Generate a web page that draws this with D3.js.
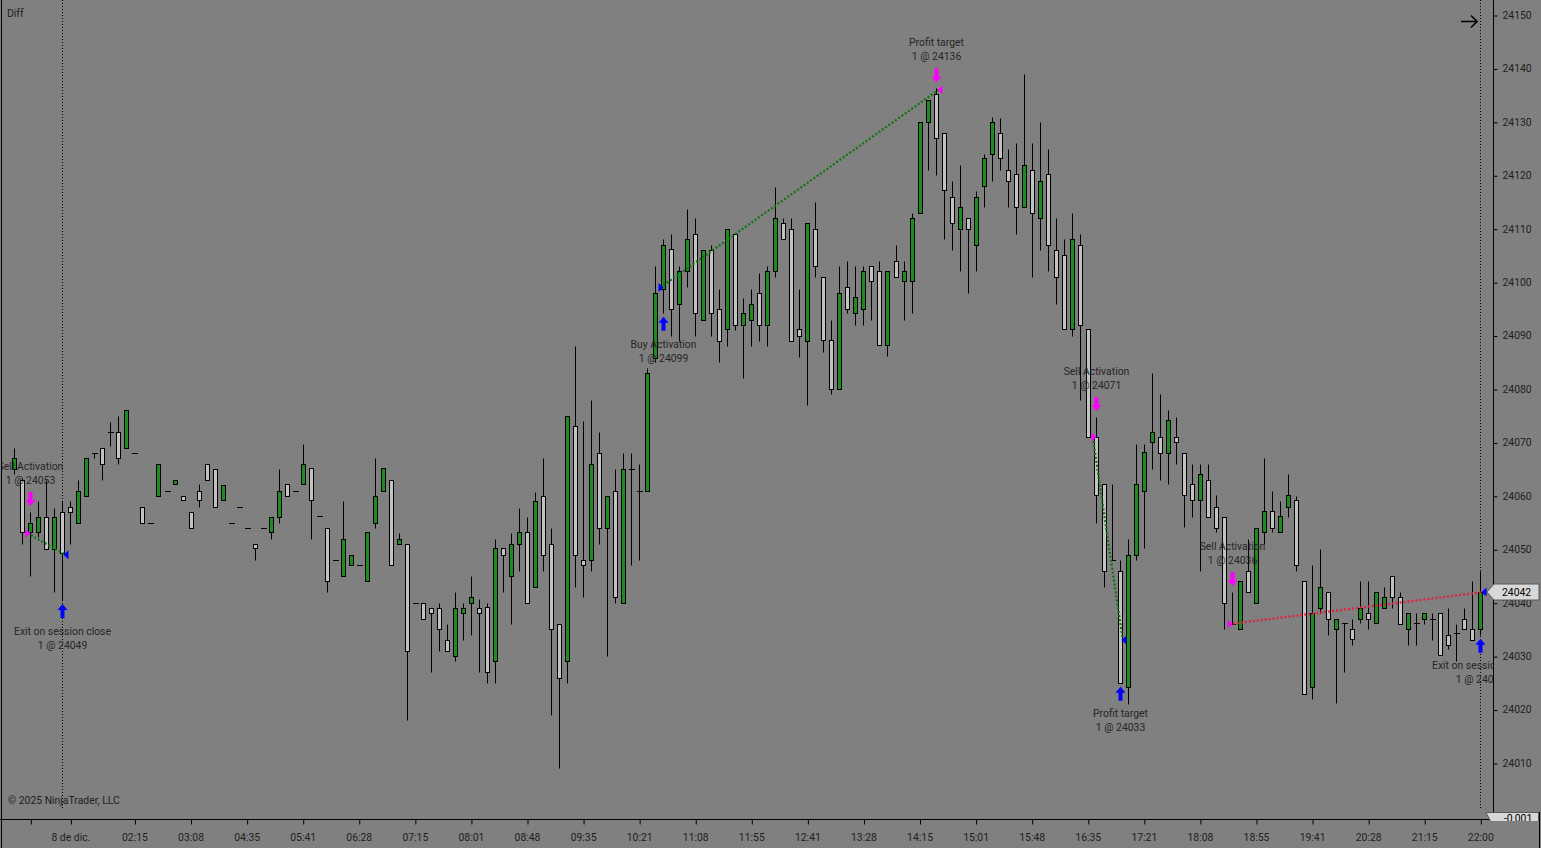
<!DOCTYPE html>
<meta charset="utf-8">
<style>

body {
  margin: 0;
  background: #808080;
}

svg {
  display: block;
  font-family: Roboto, "Noto Sans", sans-serif;
  font-size: 10.4px;
}

.wick { stroke: #000; stroke-width: 1px; }
.body { stroke: #000; stroke-width: 1px; }
.axis text { fill: #1e1e1e; font-size: 10.4px; font-family: Roboto, "Noto Sans", sans-serif; }
.axis line { stroke: #000; }
.note { fill: #262626; text-anchor: middle; }

</style>
<body>
<div class="canvas"></div>
</body>
<script src="https://d3js.org/d3.v7.min.js"></script>
<script>

// bar data (one entry per bar)
var opens = [
  24065, 24063, 24053.25, 24053.25, 24056, 24050, 24057, 24058, 24055, 24060,
  24068, 24069, 24072, 24072, 24069, 24068, 24058, 24055, 24060, 24061,
  24062.25, 24060, 24057, 24061, 24066, 24065, 24059.25, 24055, 24058, 24054,
  24051, 24054, 24053.25, 24056, 24062.25, 24061, 24062.25, 24065.25, 24056.25, 24054,
  24048, 24045, 24047, 24047, 24044, 24055, 24061, 24063, 24051, 24051,
  24040, 24040, 24039, 24039, 24033, 24030, 24038, 24040, 24039, 24039.25,
  24029, 24050.25, 24045, 24051, 24053.25, 24043, 24060, 24051, 24036, 24029,
  24073, 24048, 24048, 24068, 24054, 24061, 24040, 24065, 24061, 24061,
  24085.75, 24098.75, 24106.25, 24096, 24102, 24109, 24093, 24106, 24095, 24091.25,
  24109, 24092, 24093, 24098, 24092, 24102, 24111, 24110, 24091.25, 24089,
  24110, 24101, 24089.25, 24080, 24099, 24094.25, 24095, 24103, 24102, 24088.25,
  24104, 24100.25, 24100.25, 24113, 24130, 24135.25, 24128, 24116, 24110, 24112,
  24107, 24118, 24124, 24128, 24121, 24120.25, 24114, 24121, 24112, 24120.25,
  24106, 24105, 24091.25, 24107, 24091.25, 24071, 24062.25, 24048, 24046, 24024.25,
  24049, 24061, 24070, 24071, 24068, 24071, 24068, 24062.25, 24059.25, 24063,
  24058, 24056, 24036, 24035, 24046, 24040, 24053.25, 24057.25, 24053.25, 24058,
  24059.25, 24044, 24024.25, 24039, 24042, 24035, 24036.25, 24035, 24037, 24038,
  24036.25, 24039, 24045, 24041, 24035, 24036.25, 24037, 24037, 24038, 24034,
  24034.25, 24037, 24035, 24035
];
var highs = [
  24069, 24063.25, 24057, 24059, 24063, 24057.75, 24059, 24059, 24063, 24067,
  24068, 24069, 24073.75, 24075, 24076, 24068, 24058, 24055, 24066, 24061,
  24063, 24060, 24057, 24062.25, 24066, 24065, 24062, 24055, 24058, 24054,
  24051, 24054, 24056, 24065, 24062.25, 24061, 24069.75, 24065.25, 24056.25, 24054,
  24048, 24059, 24049, 24047, 24053.25, 24067, 24065.25, 24063, 24053, 24051,
  24040, 24040, 24039, 24040, 24036, 24042, 24040, 24045, 24040.75, 24040,
  24052, 24050.25, 24053, 24057.75, 24056, 24060.75, 24067, 24054, 24036, 24075,
  24088, 24074, 24078, 24072, 24060, 24065, 24068, 24068, 24066, 24084,
  24103, 24108, 24109, 24103, 24113.75, 24112, 24106, 24107, 24098.75, 24110,
  24109, 24097, 24098.75, 24101.75, 24103, 24117.75, 24112, 24112, 24098.75, 24111,
  24115, 24101, 24093, 24103, 24104, 24103, 24103, 24103, 24104, 24102,
  24107, 24104, 24113, 24130, 24134, 24136.25, 24128, 24119, 24122, 24112,
  24117, 24124, 24131, 24130.75, 24125, 24126, 24139, 24126, 24130, 24125,
  24112, 24108, 24113, 24109, 24091.25, 24074.75, 24062.25, 24062.25, 24048, 24052,
  24069.75, 24069.75, 24083, 24079, 24076, 24074.75, 24068, 24066, 24066, 24066,
  24060.25, 24056, 24042, 24044, 24052, 24054, 24067, 24061, 24059, 24064,
  24060, 24044, 24047, 24050, 24042, 24037, 24036.25, 24037, 24044, 24044,
  24042, 24043, 24045, 24042, 24038, 24038, 24038, 24038, 24038, 24039,
  24036, 24039, 24044, 24046
];
var lows = [
  24064, 24051, 24045, 24052.25, 24050, 24042, 24040.5, 24051, 24055, 24060,
  24067, 24063, 24069.25, 24066, 24069, 24068, 24055, 24055, 24060, 24061,
  24062.25, 24059.25, 24054, 24058, 24063, 24058, 24059.25, 24055, 24058, 24054,
  24048, 24054, 24052, 24055, 24060, 24061, 24062.25, 24052, 24056.25, 24042,
  24048, 24045, 24047, 24047, 24044, 24054, 24061, 24047, 24051, 24018,
  24040, 24037, 24027, 24031, 24031, 24029, 24033, 24034, 24027, 24025,
  24025, 24042, 24036, 24046, 24040, 24043, 24046, 24019, 24009, 24025,
  24043, 24041, 24046, 24051, 24030, 24040, 24040, 24047, 24048, 24061,
  24085, 24094.25, 24090, 24089, 24099, 24090, 24093, 24090, 24085, 24088,
  24091, 24082, 24088, 24089, 24088, 24101, 24108, 24089, 24086, 24077,
  24101, 24087, 24079, 24080, 24094.25, 24092, 24092, 24093, 24088.25, 24086.25,
  24101, 24093, 24094.25, 24113, 24121, 24120, 24108, 24106, 24102, 24098,
  24102, 24114, 24119, 24121, 24114, 24109, 24114, 24101, 24106, 24102,
  24096, 24091.25, 24090, 24078, 24071, 24055, 24043, 24048, 24025, 24021,
  24048, 24050.25, 24065, 24063, 24062.25, 24066, 24054.25, 24056, 24046, 24056,
  24053.25, 24035, 24036, 24035, 24042, 24040, 24051, 24053.25, 24053.25, 24056,
  24046, 24023, 24022, 24038, 24034, 24021.25, 24027, 24032, 24036.25, 24035,
  24036.25, 24039, 24039, 24036, 24032, 24032, 24036, 24033, 24030.25, 24031.25,
  24029, 24035, 24033, 24034
];
var closes = [
  24067, 24053.25, 24055, 24056, 24050, 24056, 24049.25, 24057, 24061, 24067,
  24068, 24066, 24072, 24067, 24076, 24068, 24055, 24055, 24066, 24061,
  24063, 24059.25, 24054, 24059.25, 24063, 24058, 24062, 24055, 24058, 24054,
  24050.25, 24054, 24056, 24061, 24060, 24061, 24066, 24059.25, 24056.25, 24044,
  24048, 24052, 24049, 24047, 24053.25, 24060, 24065.25, 24047, 24052, 24031,
  24040, 24037, 24038, 24035, 24031, 24039, 24039, 24041, 24038, 24027,
  24050.25, 24049, 24051, 24053.25, 24040, 24059, 24049, 24035, 24026, 24075,
  24049, 24047, 24066, 24054, 24060, 24041, 24065, 24065, 24061, 24083,
  24098, 24107, 24095, 24102, 24108, 24094.25, 24106, 24094.25, 24089, 24110,
  24092, 24094.25, 24096, 24092, 24102, 24112, 24108, 24089, 24090, 24111,
  24103, 24089.25, 24080, 24098, 24095, 24097.25, 24102, 24100.25, 24088.25, 24102,
  24101, 24102, 24112, 24130, 24134, 24127, 24117.25, 24111, 24114, 24110,
  24116, 24123.25, 24130, 24123.25, 24119, 24114, 24122, 24113, 24119, 24107,
  24101, 24091.25, 24108, 24092, 24071, 24060.25, 24046, 24048, 24025, 24049,
  24062.25, 24068.25, 24072, 24068, 24074.25, 24070, 24060.25, 24059.25, 24064, 24056,
  24054, 24040, 24036, 24044, 24042, 24054, 24057.25, 24054, 24056.25, 24060.25,
  24047, 24023, 24038, 24043, 24037, 24037, 24036.25, 24033.25, 24039, 24037,
  24042, 24041, 24041, 24036, 24038, 24036.25, 24038, 24037, 24030.25, 24032,
  24034.25, 24035, 24033, 24042
];

// time axis
var tickIdx = [2, 7, 15, 22, 29, 36, 43, 50, 57, 64, 71, 78, 85, 92, 99, 106, 113, 120, 127, 134, 141, 148, 155, 162, 169, 176, 183];
var tickLabels = ["", "8 de dic.", "02:15", "03:08", "04:35", "05:41", "06:28", "07:15", "08:01", "08:48", "09:35", "10:21", "11:08",
  "11:55", "12:41", "13:28", "14:15", "15:01", "15:48", "16:35", "17:21", "18:08", "18:55", "19:41", "20:28", "21:15", "22:00"];

// price axis
var priceTicks = [24010, 24020, 24030, 24040, 24050, 24060, 24070, 24080, 24090, 24100, 24110, 24120, 24130, 24140, 24150];
var lastPrice = 24042;

// executions
var execIdx = [2, 6, 81, 115, 135, 138, 152, 183];
var execPrice = [24053, 24049, 24099, 24136, 24071, 24033, 24036, 24042];
var execName = ["Sell Activation", "Exit on session close", "Buy Activation", "Profit target",
  "Sell Activation", "Profit target", "Sell Activation", "Exit on session close"];
var execSide = ["sell", "buy", "buy", "sell", "sell", "buy", "sell", "buy"];
var execKind = ["entry", "exit", "entry", "exit", "entry", "exit", "entry", "exit"];

// trades: entry exec -> exit exec
var tradeFrom = [0, 2, 4, 6];
var tradeTo = [1, 3, 5, 7];
var tradeWin = [true, true, true, false];

var W = 1541, H = 848,
    plotR = 1493, plotB = 819;

var svg = d3.select(".canvas").append("svg")
    .attr("width", W)
    .attr("height", H);

svg.append("rect").attr("width", W).attr("height", H).attr("fill", "#808080");

var x = d3.scaleLinear().domain([0, 183]).range([14.3, 1480.3]);
var y = d3.scaleLinear().domain([24010, 24150]).range([763, 15]);

svg.append("clipPath").attr("id", "plot")
  .append("rect").attr("x", 1).attr("y", 0).attr("width", plotR - 1).attr("height", plotB);

var plot = svg.append("g").attr("clip-path", "url(#plot)");

// session lines
[6, 183].forEach(function(i) {
  var cx = Math.round(x(i)) + 0.5;
  plot.append("line")
      .attr("x1", cx).attr("x2", cx).attr("y1", 0).attr("y2", 810)
      .attr("stroke", "#000").attr("stroke-width", 1)
      .attr("stroke-dasharray", "1,2");
});

function px(i) { return Math.round(x(i)) + 0.5; }
function py(p) { return Math.round(y(p)) + 0.5; }

var bars = plot.append("g").selectAll("g")
    .data(d3.range(opens.length))
  .enter().append("g");

bars.append("line")
    .attr("class", "wick")
    .attr("x1", px).attr("x2", px)
    .attr("y1", function(i) { return py(highs[i]); })
    .attr("y2", function(i) { return py(lows[i]); });

bars.filter(function(i) { return opens[i] !== closes[i]; })
  .append("rect")
    .attr("class", "body")
    .attr("x", function(i) { return px(i) - 2; })
    .attr("width", 4)
    .attr("y", function(i) { return py(Math.max(opens[i], closes[i])); })
    .attr("height", function(i) { return py(Math.min(opens[i], closes[i])) - py(Math.max(opens[i], closes[i])); })
    .attr("fill", function(i) { return closes[i] > opens[i] ? "#1e8c1e" : "#c3c3c3"; });

bars.filter(function(i) { return opens[i] === closes[i]; })
  .append("line")
    .attr("class", "wick")
    .attr("x1", function(i) { return px(i) - 2.5; })
    .attr("x2", function(i) { return px(i) + 3.5; })
    .attr("y1", function(i) { return py(opens[i]); })
    .attr("y2", function(i) { return py(opens[i]); });

// trade lines
tradeFrom.forEach(function(a, k) {
  var b = tradeTo[k];
  plot.append("line")
      .attr("x1", x(execIdx[a]) - 3).attr("y1", y(execPrice[a]))
      .attr("x2", x(execIdx[b]) + 3).attr("y2", y(execPrice[b]))
      .attr("stroke", tradeWin[k] ? "#0b750b" : "#e0203c")
      .attr("stroke-width", 2.2)
      .attr("stroke-dasharray", "2,2");
});

// execution markers
execIdx.forEach(function(i, k) {
  var cx = px(i), ey = y(execPrice[k]);
  var col = execSide[k] === "sell" ? "#ff00ff" : "#0000ff";

  // triangle at fill price
  var tri = execKind[k] === "entry"
    ? [[cx - 5, ey - 4.5], [cx, ey], [cx - 5, ey + 4.5]]
    : [[cx + 6, ey - 4.5], [cx + 1, ey], [cx + 6, ey + 4.5]];
  plot.append("path").attr("d", d3.line()(tri) + "Z").attr("fill", col);

  // arrow and label
  var g = plot.append("g");
  if (execSide[k] === "sell") {
    var top = y(highs[i]);
    var t = top - 6;
    g.append("path")
        .attr("d", "M" + (cx - 2) + "," + (t - 14) + "H" + (cx + 2) + "V" + (t - 6) +
               "H" + (cx + 5) + "L" + cx + "," + t + "L" + (cx - 5) + "," + (t - 6) + "H" + (cx - 2) + "Z")
        .attr("fill", col);
    g.append("text").attr("class", "note").attr("x", cx).attr("y", top - 46).attr("dy", "0.35em").text(execName[k]);
    g.append("text").attr("class", "note").attr("x", cx).attr("y", top - 32).attr("dy", "0.35em").text("1 @ " + execPrice[k]);
  } else {
    var bot = y(lows[i]);
    var b = bot + 4;
    g.append("path")
        .attr("d", "M" + (cx - 2) + "," + (b + 14) + "H" + (cx + 2) + "V" + (b + 6) +
               "H" + (cx + 5) + "L" + cx + "," + b + "L" + (cx - 5) + "," + (b + 6) + "H" + (cx - 2) + "Z")
        .attr("fill", col);
    g.append("text").attr("class", "note").attr("x", cx).attr("y", bot + 31).attr("dy", "0.35em").text(execName[k]);
    g.append("text").attr("class", "note").attr("x", cx).attr("y", bot + 45).attr("dy", "0.35em").text("1 @ " + execPrice[k]);
  }
});

// corner texts
svg.append("text").attr("x", 7).attr("y", 13).attr("dy", "0.35em").attr("fill", "#1e1e1e").text("Diff");
svg.append("text").attr("x", 8).attr("y", 800).attr("dy", "0.35em").attr("fill", "#1e1e1e").text("\u00a9 2025 NinjaTrader, LLC");

// arrow top right
svg.append("path")
    .attr("d", "M1461,21.5H1477M1471,15.5L1477,21.5L1471,27.5")
    .attr("fill", "none").attr("stroke", "#000").attr("stroke-width", 1.6);

// price axis
var yAxis = svg.append("g")
    .attr("class", "axis")
    .attr("transform", "translate(" + (plotR + 0.5) + ",0)")
    .call(d3.axisRight(y).tickValues(priceTicks).tickSize(4).tickPadding(5).tickFormat(d3.format("d")));
yAxis.select(".domain").remove();
yAxis.selectAll(".tick line").attr("transform", "translate(0,0.5)");

svg.append("line")
    .attr("x1", plotR + 0.5).attr("x2", plotR + 0.5).attr("y1", 0).attr("y2", plotB)
    .attr("stroke", "#000");

// time axis
var xAxis = svg.append("g")
    .attr("class", "axis")
    .attr("transform", "translate(0," + (plotB + 0.5) + ")")
    .call(d3.axisBottom(x).tickValues(tickIdx).tickSize(5).tickPadding(9)
      .tickFormat(function(d, i) { return tickLabels[i]; }));
xAxis.select(".domain").remove();
xAxis.selectAll(".tick line").attr("transform", "translate(0.5,0)");

svg.append("line")
    .attr("x1", 0).attr("x2", plotR).attr("y1", plotB + 0.5).attr("y2", plotB + 0.5)
    .attr("stroke", "#000");

// borders
svg.append("line").attr("x1", 1.5).attr("x2", 1.5).attr("y1", 0).attr("y2", H).attr("stroke", "#000");
svg.append("line").attr("x1", 1539.5).attr("x2", 1539.5).attr("y1", 812).attr("y2", H).attr("stroke", "#000");

// last price marker
var ly = y(lastPrice);
svg.append("path")
    .attr("d", "M1487," + ly + "L1494," + (ly - 8) + "H1539V" + (ly + 8) + "H1494Z")
    .attr("fill", "#d8d8d8").attr("stroke", "#5a5a5a").attr("stroke-width", 1);
svg.append("text").attr("x", 1502).attr("y", ly).attr("dy", "0.35em").attr("fill", "#000").text(lastPrice);

// lower panel value tag (cut at the bottom edge)
svg.append("clipPath").attr("id", "tag")
  .append("rect").attr("x", 1480).attr("y", 810).attr("width", 61).attr("height", 11);
var tag = svg.append("g").attr("clip-path", "url(#tag)");
tag.append("path")
    .attr("d", "M1486,812.5H1538.5V826H1493Z")
    .attr("fill", "#d8d8d8").attr("stroke", "#5a5a5a");
tag.append("text").attr("x", 1504).attr("y", 818).attr("dy", "0.35em").attr("fill", "#000").text("-0,001");

</script>
